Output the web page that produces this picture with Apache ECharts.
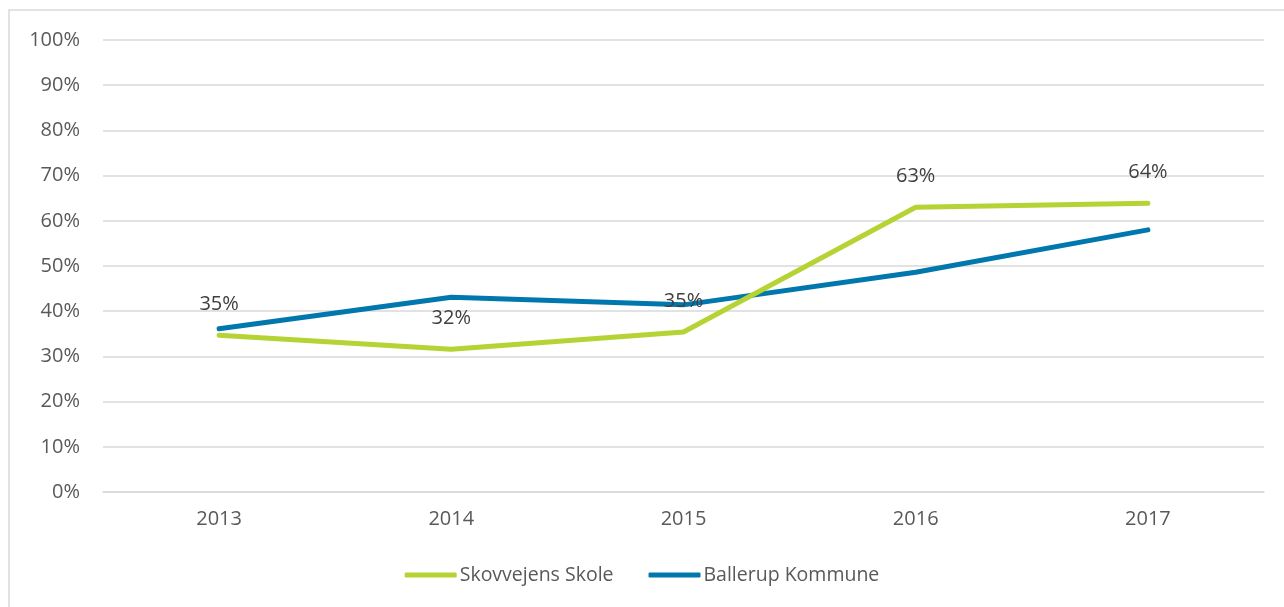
<!DOCTYPE html>
<html><head><meta charset="utf-8">
<script src="https://cdn.jsdelivr.net/npm/echarts@6/dist/echarts.min.js"></script>
<style>html,body{margin:0;padding:0;background:#fff}#c{width:1284px;height:607px}</style>
</head><body><div id="c"></div>
<script>
const years = ['2013','2014','2015','2016','2017'];
const skovvejens = [34.7, 31.6, 35.4, 63.0, 63.9];
const ballerup = [36.1, 43.1, 41.4, 48.6, 58.0];
const seriesNames = ['Skovvejens Skole', 'Ballerup Kommune'];

const FONT = 'Open Sans';
const chart = echarts.init(document.getElementById('c'), null, {renderer:'canvas'});
chart.setOption({
  animation: false,
  backgroundColor: '#fff',
  textStyle: {fontFamily: FONT},
  graphic: [{
    type: 'rect', shape: {x: 9, y: 10, width: 1290, height: 610},
    style: {fill: 'none', stroke: '#d9d9d9', lineWidth: 1.5}, silent: true, z: -1
  }],
  grid: {left: 103, right: 20, top: 40, bottom: 115, containLabel: false},
  legend: {
    bottom: 17, left: 'center',
    itemWidth: 52, itemHeight: 5, itemGap: 35, icon: 'roundRect',
    textStyle: {fontFamily: FONT, fontSize: 19.5, color: '#595959', padding: [0,0,0,-2]},
    data: seriesNames
  },
  xAxis: {
    type: 'category', data: years, boundaryGap: true,
    axisLine: {show: true, lineStyle: {color: '#d9d9d9', width: 1.5}},
    axisTick: {show: false},
    axisLabel: {color: '#595959', fontSize: 20, fontFamily: FONT, margin: 17}
  },
  yAxis: {
    type: 'value', min: 0, max: 100, interval: 10,
    axisLine: {show: false}, axisTick: {show: false},
    splitLine: {lineStyle: {color: '#d9d9d9', width: 1.5}},
    axisLabel: {color: '#595959', fontSize: 20, fontFamily: FONT, margin: 23, formatter: '{value}%'}
  },
  series: [
    {
      name: seriesNames[0], type: 'line', data: skovvejens,
      symbol: 'circle', symbolSize: 0, showSymbol: true,
      lineStyle: {color: '#b5d334', width: 5, cap: 'round', join: 'round'},
      itemStyle: {color: '#b5d334'},
      label: {show: true, position: 'top', distance: 21, color: '#404040', fontSize: 20, fontFamily: FONT,
        formatter: p => Math.round(p.value) + '%'},
      z: 3
    },
    {
      name: seriesNames[1], type: 'line', data: ballerup,
      symbol: 'none', showSymbol: false,
      lineStyle: {color: '#0078ae', width: 5, cap: 'round', join: 'round'},
      itemStyle: {color: '#0078ae'},
      z: 2
    }
  ]
});
</script></body></html>
